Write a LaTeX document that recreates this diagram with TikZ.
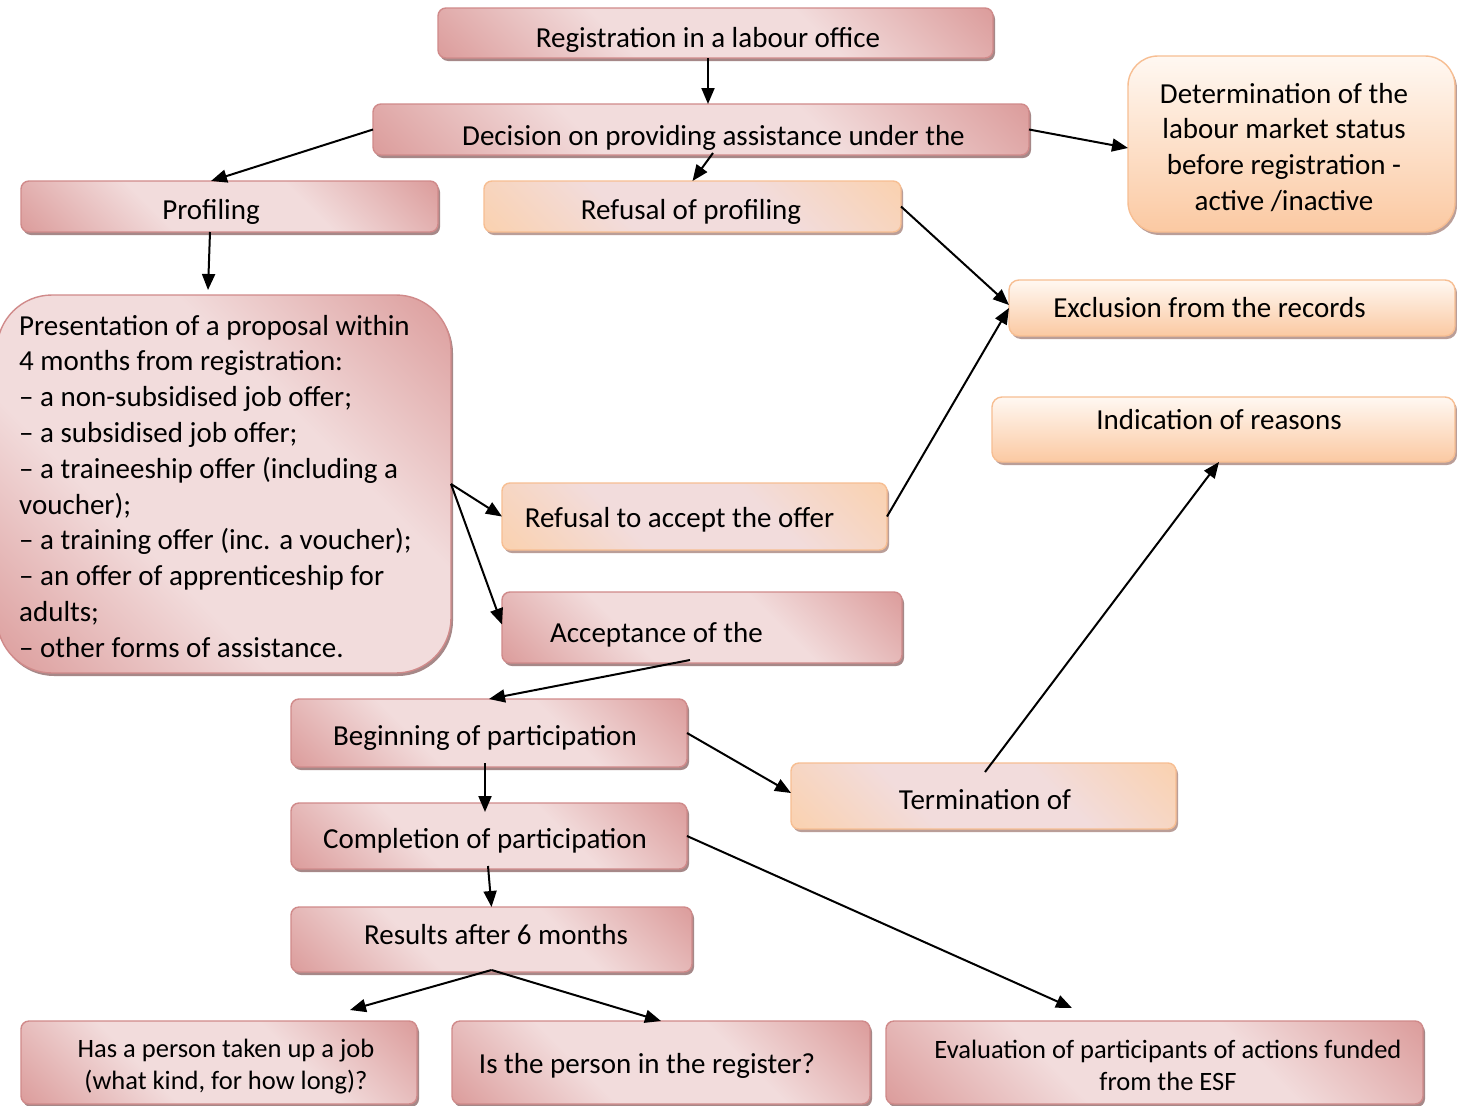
\documentclass[tikz,border=0pt]{standalone}
\usepackage{fontspec}
\setmainfont{Carlito}
\usetikzlibrary{arrows.meta,shadows,calc}

\definecolor{pkdark}{HTML}{D99594}
\definecolor{pklight}{HTML}{F2DCDC}
\definecolor{pkline}{HTML}{D08A8A}
\definecolor{pkshadow}{HTML}{A68888}
\definecolor{ordark}{HTML}{FBD0AA}
\definecolor{orlight}{HTML}{F2DCDC}
\definecolor{orline}{HTML}{F7BE92}
\definecolor{orshadow}{HTML}{BA9E98}
\definecolor{ortop}{HTML}{FFF8F2}
\definecolor{orbottom}{HTML}{FBC9A2}

% diagonal fills: coloured corners, pale band through the middle
\pgfdeclareverticalshading{pinkdiag}{100bp}{color(0bp)=(pkdark); color(12bp)=(pkdark);
  color(38bp)=(pklight); color(62bp)=(pklight); color(88bp)=(pkdark); color(100bp)=(pkdark)}
\pgfdeclareverticalshading{peachdiag}{100bp}{color(0bp)=(ordark); color(12bp)=(ordark);
  color(38bp)=(orlight); color(62bp)=(orlight); color(88bp)=(ordark); color(100bp)=(ordark)}

\tikzset{
  box/.style={rounded corners=#1, line width=1.4pt, inner sep=0pt, outer sep=0pt},
  box/.default=8pt,
  pinkbox/.style={box=#1, draw=pkline, shading=pinkdiag, shading angle=-45,
    drop shadow={shadow xshift=2pt, shadow yshift=-3pt, fill=pkshadow, opacity=1}},
  pinkbox/.default=8pt,
  orbox/.style={box=#1, draw=orline, shading=peachdiag, shading angle=-45,
    drop shadow={shadow xshift=2pt, shadow yshift=-3pt, fill=orshadow, opacity=1}},
  orbox/.default=8pt,
  orvbox/.style={box=#1, draw=orline,
    top color=ortop, bottom color=orbottom,
    drop shadow={shadow xshift=2pt, shadow yshift=-3pt, fill=orshadow, opacity=1}},
  orvbox/.default=10pt,
  lbl/.style={anchor=base, inner sep=0pt, font=\fontsize{29}{35.8}\selectfont},
  lblsm/.style={anchor=base, inner sep=0pt, font=\fontsize{26.5}{32}\selectfont},
  arr/.style={line width=2pt, -{Triangle[length=16pt,width=13pt]}},
}

\begin{document}
\begin{tikzpicture}[x=1pt,y=-1pt]
\useasboundingbox (0,0) rectangle (1457,1106);
\fill[white] (0,0) rectangle (1457,1106);

% boxes
\node[pinkbox, minimum width=555pt, minimum height=50pt] (reg) at (715.5,33) {};
\node[lbl] (reg-t) at (708,47) {Registration in a labour office};

\node[pinkbox, minimum width=656pt, minimum height=51pt] (dec) at (701,129.5) {};
\node[lbl] (dec-t) at (713.5,145) {Decision on providing assistance under the};

\node[pinkbox, minimum width=417pt, minimum height=51pt] (prof) at (229.5,206.5) {};
\node[lbl] (prof-t) at (211,219) {Profiling};

\node[orbox, minimum width=417pt, minimum height=51pt] (refp) at (692.5,206.5) {};
\node[lbl] (refp-t) at (691,219) {Refusal of profiling};

\node[orvbox=30pt, minimum width=327pt, minimum height=176pt] (det) at (1291.5,144) {};
\node[lbl] (det-t) at (1284,103) {\begin{tabular}[t]{@{}c@{}}Determination of the\\labour market status\\before registration -\\active /inactive\end{tabular}};

\node[orvbox, minimum width=446pt, minimum height=56pt] (excl) at (1232,308) {};
\node[lbl] (excl-t) at (1209.5,317) {Exclusion from the records};

\node[pinkbox=55pt, minimum width=454pt, minimum height=378pt] (pres) at (224,484) {};
\node[lbl, anchor=base west] (pres-t) at (19,335) {\begin{tabular}[t]{@{}l@{}}Presentation of a proposal within\\4 months from registration:\\– a non-subsidised job offer;\\– a subsidised job offer;\\– a traineeship offer (including a\\voucher);\\– a training offer (inc. a voucher);\\– an offer of apprenticeship for\\adults;\\– other forms of assistance.\end{tabular}};

\node[orvbox, minimum width=463pt, minimum height=65pt] (ind) at (1223.5,429.5) {};
\node[lbl] (ind-t) at (1219,429) {Indication of reasons};

\node[orbox, minimum width=385pt, minimum height=67pt] (refa) at (694.5,516.5) {};
\node[lbl] (refa-t) at (679.5,527) {Refusal to accept the offer};

\node[pinkbox, minimum width=400pt, minimum height=71pt] (acc) at (702,627.5) {};
\node[lbl] (acc-t) at (656.5,642) {Acceptance of the};

\node[pinkbox, minimum width=396pt, minimum height=68pt] (beg) at (489,733) {};
\node[lbl] (beg-t) at (485,745) {Beginning of participation};

\node[orbox, minimum width=385pt, minimum height=66pt] (term) at (983.5,796) {};
\node[lbl] (term-t) at (985,809) {Termination of};

\node[pinkbox, minimum width=396pt, minimum height=66pt] (comp) at (489,836) {};
\node[lbl] (comp-t) at (485,848) {Completion of participation};

\node[pinkbox, minimum width=401pt, minimum height=65pt] (res) at (491.5,939.5) {};
\node[lbl] (res-t) at (496,944) {Results after 6 months};

\node[pinkbox, minimum width=396pt, minimum height=83pt] (job) at (219,1062.5) {};
\node[lblsm] (job-t) at (226,1057) {\begin{tabular}[t]{@{}c@{}}Has a person taken up a job\\(what kind, for how long)?\end{tabular}};

\node[pinkbox, minimum width=418pt, minimum height=83pt] (isreg) at (661,1062.5) {};
\node[lbl] (isreg-t) at (647,1073) {Is the person in the register?};

\node[pinkbox, minimum width=537pt, minimum height=83pt] (eval) at (1154.5,1062.5) {};
\node[lblsm] (eval-t) at (1168,1058) {\begin{tabular}[t]{@{}c@{}}Evaluation of participants of actions funded\\from the ESF\end{tabular}};

% connectors
\draw[arr] ($(reg.south)+(-7.5,0)$) -- ($(dec.north)+(7,0)$);
\draw[arr] (dec.west) -- ($(prof.north)+(-18.5,0)$);
\draw[arr] ($(dec.south)+(12,-2)$) -- (refp.north);
\draw[arr] (dec.east) -- ($(det.west)+(0,4)$);
\draw[arr] ($(prof.south)+(-19.5,0)$) -- ($(pres.north)+(-16,-5)$);
\draw[arr] (refp.east) -- ($(excl.west)+(0,-3)$);
\draw[arr] (refa.east) -- (excl.west);
\draw[arr] (pres.east) -- (refa.west);
\draw[arr] (pres.east) -- ($(acc.west)+(0,-3)$);
\draw[arr] ($(acc.south)+(-12,-3)$) -- (beg.north);
\draw[arr] (beg.east) -- ($(term.west)+(0,-3)$);
\draw[arr] ($(term.center)+(1.5,-24)$) -- ($(ind.south)+(-4.5,0)$);
\draw[arr] ($(beg.south)+(-4,-4)$) -- ($(comp.north)+(-4,9)$);
\draw[arr] ($(comp.south)+(-1,-3)$) -- (res.north);
\draw[arr] (comp.east) -- ($(eval.north)+(-82.5,-13)$);
\draw[arr] ($(res.south)+(0,-2)$) -- ($(job.north)+(131,-11)$);
\draw[arr] ($(res.south)+(0,-2)$) -- (isreg.north);
\end{tikzpicture}
\end{document}
